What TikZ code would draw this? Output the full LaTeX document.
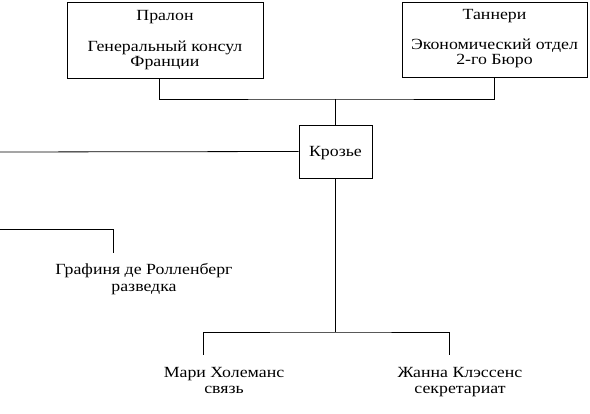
\documentclass[tikz,border=0pt]{standalone}
\usepackage{fontspec}
\setmainfont{Liberation Serif}[FakeStretch=1.15]
\begin{document}
\begin{tikzpicture}[x=1pt,y=-1pt,
  box/.style={draw, line width=0.8pt, inner sep=0pt},
  lbl/.style={font=\fontsize{15.5}{17}\selectfont, inner sep=0pt, anchor=base},
  conn/.style={line width=0.8pt}]
\useasboundingbox (0,0) rectangle (590,414);
% boxes
\node[box, minimum width=196pt, minimum height=76pt] (pralon) at (165,40) {};
\node[box, minimum width=185pt, minimum height=75pt] (tannery) at (494.5,39.5) {};
\node[box, minimum width=73pt, minimum height=53pt] (crozier) at (335.5,151.5) {};
% labels
\node[lbl] (p1) at (165,21) {Пралон};
\node[lbl] (p2) at (165,52) {Генеральный консул};
\node[lbl] (p3) at (165,67) {Франции};
\node[lbl] (t1) at (494.5,20) {Таннери};
\node[lbl] (t2) at (494.5,50) {Экономический отдел};
\node[lbl] (t3) at (494.5,65) {2-го Бюро};
\node[lbl] (c1) at (335.5,157) {Крозье};
\node[lbl] (g1) at (144,275) {Графиня де Ролленберг};
\node[lbl] (g2) at (144,292) {разведка};
\node[lbl] (m1) at (224,378) {Мари Холеманс};
\node[lbl] (m2) at (224,394) {связь};
\node[lbl] (j1) at (460,378) {Жанна Клэссенс};
\node[lbl] (j2) at (460,394) {секретариат};
% junctions
\coordinate (top) at (335,99);
\coordinate (left) at (0,152);
\coordinate (gl) at (0,229);
\coordinate (gc) at (113,229);
\coordinate (gt) at (113,253);
\coordinate (bot) at (335,332);
\coordinate (mt) at (203,355);
\coordinate (jt) at (449,355);
% connectors
\draw[conn] (pralon.south -| 159,0) |- (top) -| (tannery.south);
\draw[conn] (top) -- (crozier.north -| top);
\draw[conn] (left) -- (crozier.west);
\draw[conn] (crozier.south -| bot) -- (bot);
\draw[conn] (mt) |- (bot) -| (jt);
\draw[conn] (gl) -- (gc) -- (gt);
\end{tikzpicture}
\end{document}
